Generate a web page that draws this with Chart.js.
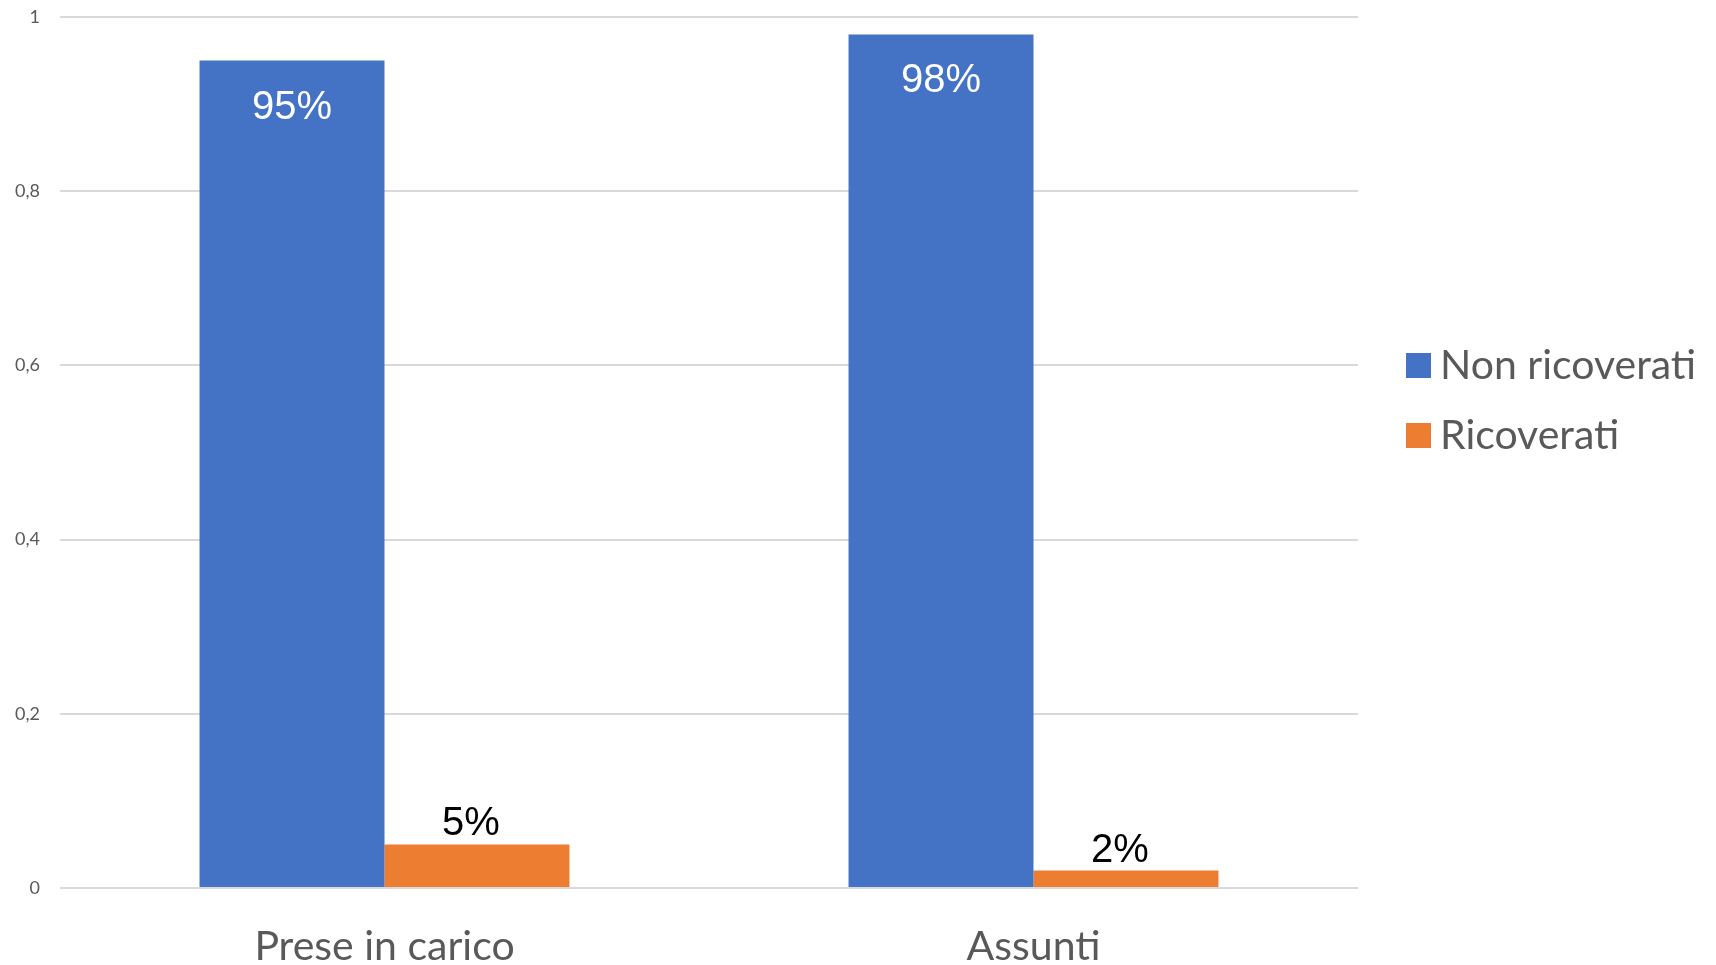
<!DOCTYPE html>
<html>
<head>
<meta charset="utf-8">
<script src="https://cdn.jsdelivr.net/npm/chart.js@4.4.0/dist/chart.umd.min.js"></script>
<style>
  html, body { margin: 0; padding: 0; background: #fff; }
  #wrap { width: 1716px; height: 965px; }
</style>
</head>
<body>
<div id="wrap"><canvas id="chart"></canvas></div>
<script>
const categories = ['Prese in carico', 'Assunti'];
const nonRicoverati = [0.95, 0.98];
const ricoverati = [0.05, 0.02];
const seriesNames = ['Non ricoverati', 'Ricoverati'];
const seriesColors = ['#4472C4', '#ED7D31'];

const GREY = '#595959';

// value labels: white inside the blue bars, black above the orange ones
const valueLabels = {
  id: 'valueLabels',
  afterDatasetsDraw(chart) {
    const ctx = chart.ctx;
    ctx.save();
    ctx.font = '40px "Liberation Sans", Arial, sans-serif';
    ctx.textAlign = 'center';
    chart.data.datasets.forEach((ds, i) => {
      chart.getDatasetMeta(i).data.forEach((bar, j) => {
        const txt = Math.round(ds.data[j] * 100) + '%';
        if (i === 0) {
          ctx.fillStyle = '#ffffff';
          ctx.textBaseline = 'middle';
          ctx.fillText(txt, bar.x, bar.y + 47);
        } else {
          ctx.fillStyle = '#000000';
          ctx.textBaseline = 'alphabetic';
          ctx.fillText(txt, bar.x - 6, bar.y - 9);
        }
      });
    });
    ctx.restore();
  }
};

// legend on the right, drawn by hand to sit where the original one sits
const sideLegend = {
  id: 'sideLegend',
  afterDraw(chart) {
    const ctx = chart.ctx;
    ctx.save();
    ctx.font = '41px Lato, sans-serif';
    ctx.textBaseline = 'middle';
    ctx.textAlign = 'left';
    chart.data.datasets.forEach((ds, i) => {
      const cy = 365 + i * 70;
      ctx.fillStyle = ds.backgroundColor;
      ctx.fillRect(1406, cy - 12, 25, 25);
      ctx.fillStyle = GREY;
      ctx.fillText(ds.label, 1440, cy + 1);
    });
    ctx.restore();
  }
};

new Chart(document.getElementById('chart'), {
  type: 'bar',
  data: {
    labels: categories,
    datasets: [
      { label: seriesNames[0], data: nonRicoverati, backgroundColor: seriesColors[0] },
      { label: seriesNames[1], data: ricoverati, backgroundColor: seriesColors[1] }
    ]
  },
  options: {
    responsive: true,
    maintainAspectRatio: false,
    animation: false,
    layout: { padding: { top: 17, right: 358, left: 0, bottom: 0 } },
    datasets: { bar: { barPercentage: 1, categoryPercentage: 0.57 } },
    plugins: {
      legend: { display: false },
      tooltip: { enabled: false }
    },
    scales: {
      x: {
        grid: { display: false },
        border: { display: false },
        ticks: {
          color: GREY,
          padding: 26,
          font: { family: 'Lato', size: 41 }
        },
        afterFit(scale) {
          scale.height = 77;
          scale.paddingLeft = 0;
          scale.paddingRight = 0;
        }
      },
      y: {
        min: 0,
        max: 1,
        grid: { color: '#d9d9d9', lineWidth: 2, drawTicks: false },
        border: { display: false },
        ticks: {
          stepSize: 0.2,
          color: GREY,
          padding: 20,
          font: { family: 'Lato', size: 18 },
          callback: v => String(Math.round(v * 10) / 10).replace('.', ',')
        },
        afterFit(scale) {
          scale.width = 60;
          scale.paddingTop = 0;
          scale.paddingBottom = 0;
        }
      }
    }
  },
  plugins: [valueLabels, sideLegend]
});
</script>
</body>
</html>
